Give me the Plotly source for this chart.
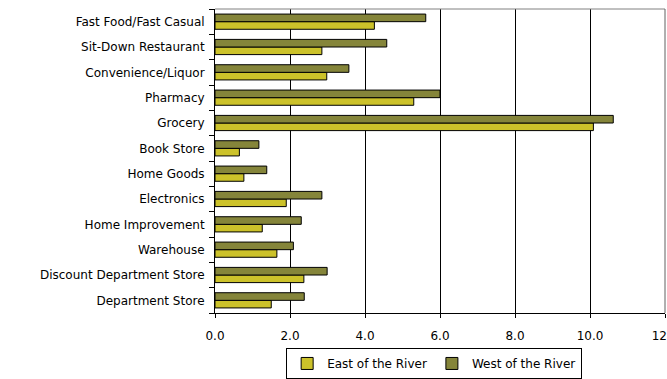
import plotly.graph_objects as go

# Store categories, listed bottom to top
categories = [
    "Department Store",
    "Discount Department Store",
    "Warehouse",
    "Home Improvement",
    "Electronics",
    "Home Goods",
    "Book Store",
    "Grocery",
    "Pharmacy",
    "Convenience/Liquor",
    "Sit-Down Restaurant",
    "Fast Food/Fast Casual",
]
east_of_river = [1.50, 2.37, 1.65, 1.26, 1.90, 0.77, 0.65, 10.09, 5.30, 2.98, 2.85, 4.25]
west_of_river = [2.38, 2.99, 2.09, 2.30, 2.85, 1.38, 1.17, 10.62, 6.00, 3.57, 4.58, 5.62]
x_ticks = [0, 2, 4, 6, 8, 10, 12]

FONT = "DejaVu Sans"
EAST_COLOR = "#CCC22A"
WEST_COLOR = "#85853A"

fig = go.Figure()
fig.add_trace(go.Bar(
    y=categories, x=east_of_river, orientation="h", name="East of the River",
    marker=dict(color=EAST_COLOR, line=dict(color="#000000", width=1)),
))
fig.add_trace(go.Bar(
    y=categories, x=west_of_river, orientation="h", name="West of the River",
    marker=dict(color=WEST_COLOR, line=dict(color="#000000", width=1)),
))

fig.update_layout(
    template="none",
    width=667, height=379,
    margin=dict(l=215, r=2, t=9, b=66, autoexpand=False),
    barmode="group", bargap=0.4, bargroupgap=0,
    paper_bgcolor="white", plot_bgcolor="white",
    font=dict(family=FONT, size=12, color="#000000"),
    showlegend=True,
    legend=dict(
        orientation="h", x=0.487, xanchor="center", y=-0.115, yanchor="top",
        bordercolor="#000000", borderwidth=1, bgcolor="white",
        font=dict(family=FONT, size=12), itemwidth=30,
        traceorder="normal",
    ),
    xaxis=dict(
        range=[0, 12], tickvals=x_ticks, tickformat=".1f",
        ticklabeloverflow="allow", automargin=False,
        showgrid=True, gridcolor="#000000", gridwidth=1,
        zeroline=False, showline=True, linecolor="#000000", linewidth=1,
        ticks="outside", ticklen=4, tickcolor="#000000",
        ticklabelstandoff=8,
        fixedrange=True,
    ),
    yaxis=dict(
        type="category", categoryorder="array", categoryarray=categories,
        automargin=False,
        showgrid=False, zeroline=False,
        showline=True, linecolor="#000000", linewidth=1,
        ticks="outside", ticklen=5, tickcolor="#000000", tickson="boundaries",
        ticklabelstandoff=7,
    ),
    shapes=[
        dict(type="line", xref="paper", yref="paper", x0=0, x1=1, y0=1, y1=1,
             line=dict(color="#808080", width=1)),
        dict(type="line", xref="paper", yref="paper", x0=1, x1=1, y0=0, y1=1,
             line=dict(color="#606060", width=1)),
    ],
)

fig.write_html("out.html")
